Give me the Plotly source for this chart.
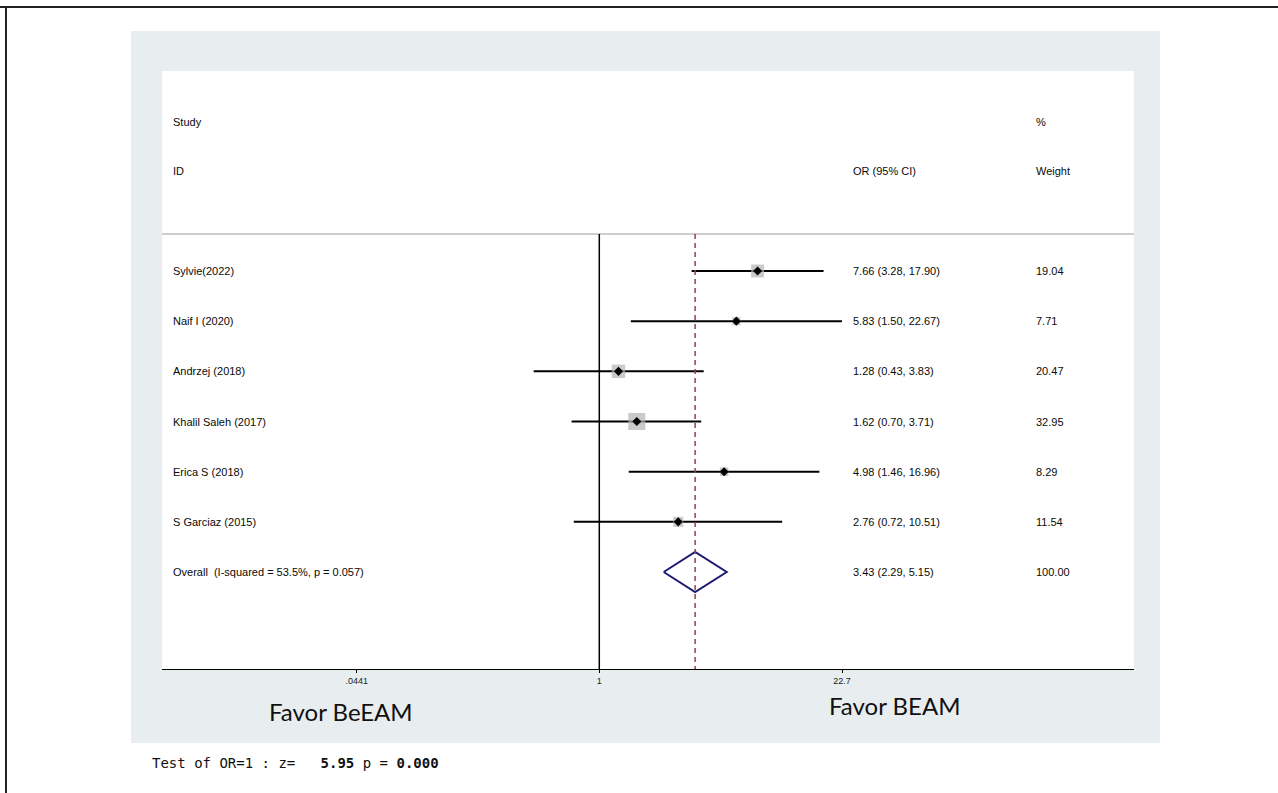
import numpy as np
import plotly.graph_objects as go

# ---- data ----
studies = ["Sylvie(2022)", "Naif I (2020)", "Andrzej (2018)", "Khalil Saleh (2017)",
           "Erica S (2018)", "S Garciaz (2015)"]
odds_ratio = [7.66, 5.83, 1.28, 1.62, 4.98, 2.76]
ci_low = [3.28, 1.50, 0.43, 0.70, 1.46, 0.72]
ci_high = [17.90, 22.67, 3.83, 3.71, 16.96, 10.51]
weights = [19.04, 7.71, 20.47, 32.95, 8.29, 11.54]

overall_label = "Overall  (I-squared = 53.5%, p = 0.057)"
overall_or = 3.43
overall_low = 2.29
overall_high = 5.15
overall_weight = 100.00

tick_values = [0.0441, 1, 22.7]
tick_labels = [".0441", "1", "22.7"]

# ---- geometry of the figure ----
W, H = 1278, 793
PL, PR, PT, PB = 162, 1134, 71, 669          # plot area in pixels
ROW_Y0, ROW_STEP = 271, 50.17                # first row centre and row spacing

def px_to_row(py):
    return 1 + (py - ROW_Y0) / ROW_STEP

def paper_x(px):
    return (px - PL) / (PR - PL)

def paper_y(py):
    return (PB - py) / (PB - PT)

# log10 axis range so that OR=1 sits at x=599.3 with 179 px per decade
PX_PER_DEC = 179.0
X_NULL = 599.3
x_range = [(PL - X_NULL) / PX_PER_DEC, (PR - X_NULL) / PX_PER_DEC]
y_range = [px_to_row(PB), px_to_row(PT)]

rows = list(range(1, len(studies) + 1))
overall_row = len(studies) + 1
sep_row = px_to_row(234)

label_font = dict(family="Liberation Sans, Arial, sans-serif", size=11, color="#0a0a0a")

fig = go.Figure()

# confidence interval lines
for r, lo, hi in zip(rows, ci_low, ci_high):
    fig.add_trace(go.Scatter(x=[lo, hi], y=[r, r], mode="lines",
                             line=dict(color="black", width=2),
                             hoverinfo="skip", showlegend=False))

# weight boxes (area proportional to weight)
box_sizes = [2.96 * np.sqrt(w) for w in weights]
fig.add_trace(go.Scatter(x=odds_ratio, y=rows, mode="markers",
                         marker=dict(symbol="square", size=box_sizes, color="#b3b3b3",
                                     line=dict(width=0)),
                         hoverinfo="skip", showlegend=False))

# point estimates
fig.add_trace(go.Scatter(x=odds_ratio, y=rows, mode="markers",
                         marker=dict(symbol="diamond", size=7, color="black"),
                         hoverinfo="skip", showlegend=False))

# pooled estimate diamond
half_h = 20 / ROW_STEP
fig.add_trace(go.Scatter(
    x=[overall_low, overall_or, overall_high, overall_or, overall_low],
    y=[overall_row, overall_row - half_h, overall_row, overall_row + half_h, overall_row],
    mode="lines", line=dict(color="#1b1b72", width=2),
    hoverinfo="skip", showlegend=False))

shapes = [
    # outer frame (top and left edges)
    dict(type="line", xref="paper", yref="paper", x0=paper_x(0), x1=paper_x(W),
         y0=paper_y(7), y1=paper_y(7), line=dict(color="#222222", width=2), layer="above"),
    dict(type="line", xref="paper", yref="paper", x0=paper_x(6), x1=paper_x(6),
         y0=paper_y(7), y1=paper_y(H), line=dict(color="#222222", width=2), layer="above"),
    # grey graph region
    dict(type="rect", xref="paper", yref="paper", x0=paper_x(131), x1=paper_x(1160),
         y0=paper_y(743), y1=paper_y(31), fillcolor="#e8eef0", line=dict(width=0),
         layer="below"),
    # white plot region
    dict(type="rect", xref="paper", yref="paper", x0=0, x1=1, y0=0, y1=1,
         fillcolor="white", line=dict(width=0), layer="below"),
    # header separator
    dict(type="line", xref="paper", yref="y", x0=0, x1=1, y0=sep_row, y1=sep_row,
         line=dict(color="#bdbdbd", width=1.5)),
    # line of no effect
    dict(type="line", xref="x", yref="y", x0=1, x1=1, y0=sep_row, y1=y_range[0],
         line=dict(color="black", width=1.5)),
    # pooled estimate reference line
    dict(type="line", xref="x", yref="y", x0=overall_or, x1=overall_or,
         y0=sep_row, y1=y_range[0], line=dict(color="#a23a48", width=1.5, dash="5px,4px")),
]

annotations = []

def add_text(txt, px, row, font=label_font):
    annotations.append(dict(text=txt, xref="paper", yref="y", x=paper_x(px), y=row,
                            xanchor="left", yanchor="middle", showarrow=False, font=font))

COL_ID, COL_OR, COL_W = 171, 851, 1034

# column headers
add_text("Study", COL_ID, px_to_row(122))
add_text("ID", COL_ID, px_to_row(171))
add_text("%", COL_W, px_to_row(122))
add_text("OR (95% CI)", COL_OR, px_to_row(171))
add_text("Weight", COL_W, px_to_row(171))

# study rows
for r, name, o, lo, hi, w in zip(rows, studies, odds_ratio, ci_low, ci_high, weights):
    add_text(name, COL_ID, r)
    add_text(f"{o:.2f} ({lo:.2f}, {hi:.2f})", COL_OR, r)
    add_text(f"{w:.2f}", COL_W, r)

add_text(overall_label, COL_ID, overall_row)
add_text(f"{overall_or:.2f} ({overall_low:.2f}, {overall_high:.2f})", COL_OR, overall_row)
add_text(f"{overall_weight:.2f}", COL_W, overall_row)

# direction labels under the axis
fav_font = dict(family="Lato, Open Sans, sans-serif", size=24, color="#111111")
annotations.append(dict(text="Favor BeEAM", xref="paper", yref="paper",
                        x=paper_x(341), y=paper_y(711), xanchor="center", yanchor="middle",
                        showarrow=False, font=fav_font))
annotations.append(dict(text="Favor BEAM", xref="paper", yref="paper",
                        x=paper_x(895), y=paper_y(705), xanchor="center", yanchor="middle",
                        showarrow=False, font=fav_font))

# overall test line
nb = "\u00a0"
test_txt = (f"Test{nb}of{nb}OR=1{nb}:{nb}z={nb*3}<b>5.95</b>{nb}p{nb}={nb}<b>0.000</b>")
annotations.append(dict(text=test_txt, xref="paper", yref="paper",
                        x=paper_x(150), y=paper_y(763), xanchor="left", yanchor="middle",
                        showarrow=False,
                        font=dict(family="DejaVu Sans Mono, monospace", size=14,
                                  color="#111111")))

fig.update_layout(
    width=W, height=H,
    margin=dict(l=PL, r=W - PR, t=PT, b=H - PB, pad=0),
    paper_bgcolor="white",
    plot_bgcolor="rgba(0,0,0,0)",
    shapes=shapes,
    annotations=annotations,
    xaxis=dict(type="log", range=x_range, tickvals=tick_values, ticktext=tick_labels,
               showgrid=False, zeroline=False, showline=True, linecolor="black",
               linewidth=1.2, ticks="outside", ticklen=3, tickcolor="black",
               tickfont=dict(family="Liberation Sans, Arial, sans-serif", size=9,
                             color="#222222")),
    yaxis=dict(range=y_range, showgrid=False, zeroline=False, showline=False,
               showticklabels=False, ticks=""),
)

fig.write_html("out.html")
